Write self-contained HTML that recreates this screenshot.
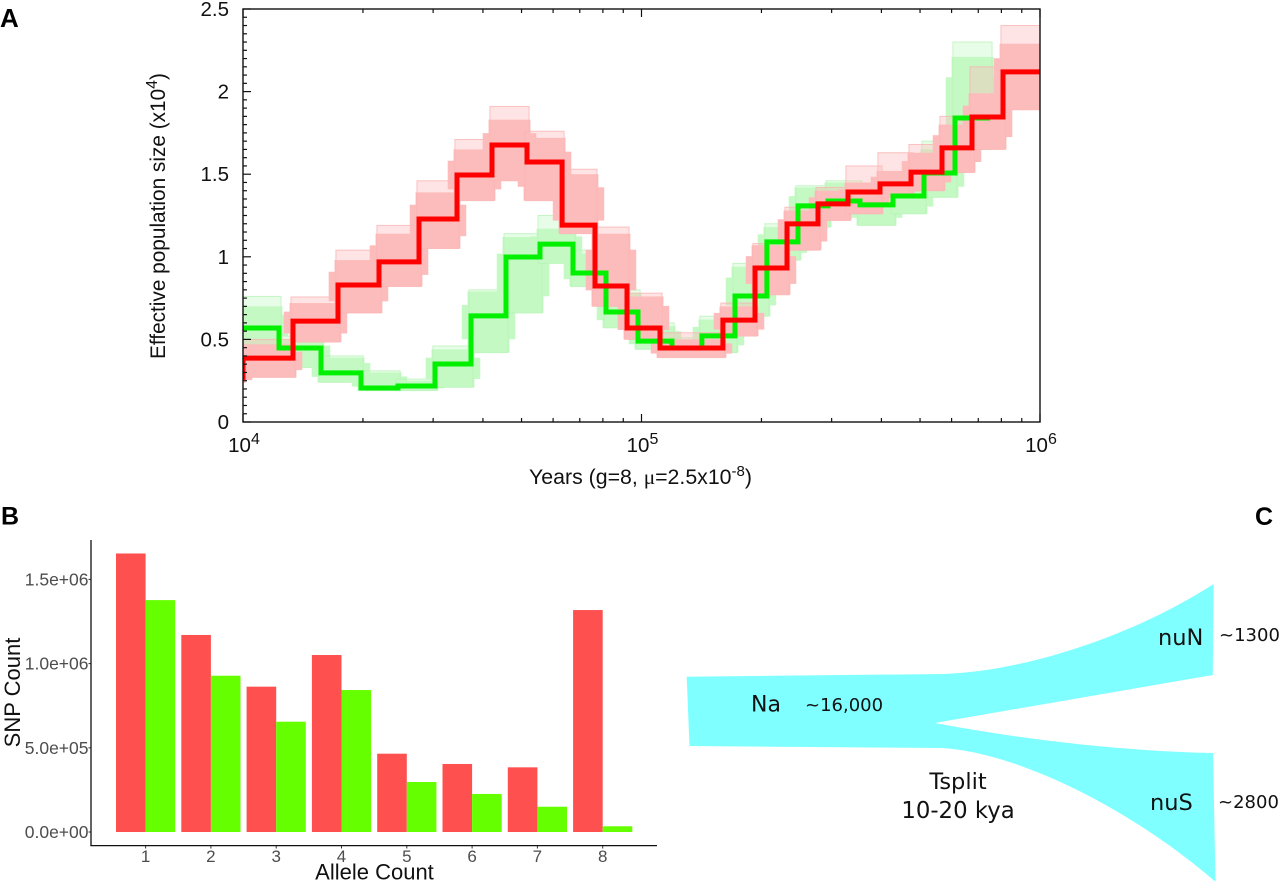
<!DOCTYPE html>
<html lang="en">
<head>
<meta charset="utf-8">
<title>Population history figure</title>
<style>
html,body{margin:0;padding:0;background:#fff;width:1280px;height:883px;overflow:hidden}
svg{display:block}
text{font-family:"Liberation Sans",sans-serif}
.dj{font-family:"DejaVu Sans",sans-serif;fill:#111}
</style>
</head>
<body>
<svg id="fig" xmlns="http://www.w3.org/2000/svg" width="1280" height="883" viewBox="0 0 1280 883">
  <defs>
    <clipPath id="plotClip"><rect x="243" y="9" width="797" height="413"/></clipPath>
  </defs>
  <text x="0" y="27" font-size="26" font-weight="bold">A</text>
  <text x="1" y="524.5" font-size="25" font-weight="bold">B</text>
  <text x="1255" y="525" font-size="25" font-weight="bold">C</text>

  <g id="panelA">
    <g id="aMarks" clip-path="url(#plotClip)"></g>
    <rect x="243" y="9" width="797" height="413" fill="none" stroke="#111" stroke-width="1.4"/>
    <g id="aAxes"></g>
    <text x="640.5" y="484" font-size="21.3" text-anchor="middle" fill="#111">Years (g=8, <tspan font-family="Liberation Serif">μ</tspan>=2.5x10<tspan font-size="15" dy="-8">-8</tspan><tspan dy="8">)</tspan></text>
    <text transform="translate(165,216) rotate(-90)" font-size="20.8" text-anchor="middle" fill="#111">Effective population size (x10<tspan font-size="16" dy="-8">4</tspan><tspan dy="8">)</tspan></text>
  </g>

  <g id="panelB">
    <g id="bMarks"></g>
    <g id="bAxes"></g>
    <line x1="91" y1="540" x2="91" y2="846" stroke="#111" stroke-width="1.3"/>
    <line x1="90.4" y1="845.6" x2="657" y2="845.6" stroke="#111" stroke-width="1.3"/>
    <text x="374.5" y="879.5" font-size="22" text-anchor="middle" fill="#111">Allele Count</text>
    <text transform="translate(20,692.5) rotate(-90)" font-size="22" text-anchor="middle" fill="#111">SNP Count</text>
  </g>

  <g id="panelC">
    <path d="M686.7 676.7 L942.4 674 C1020 672 1130 638 1213.6 584 L1212.8 675 L934.6 723 Q1080 750 1213 753 L1215.5 881.7 C1120 800 1010 752 942 748 L689.5 746 Z" fill="#7fffff"/>
    <text class="dj" x="751" y="711.5" font-size="22">Na</text>
    <text class="dj" x="805" y="711" font-size="18">~16,000</text>
    <text class="dj" x="1158" y="645" font-size="22.5">nuN</text>
    <text class="dj" x="1219" y="641" font-size="18">~1300</text>
    <text class="dj" x="1150" y="810" font-size="22.5">nuS</text>
    <text class="dj" x="1218" y="808" font-size="18">~2800</text>
    <text class="dj" x="958" y="789" font-size="22.5" text-anchor="middle">Tsplit</text>
    <text class="dj" x="958" y="818" font-size="22.8" text-anchor="middle">10-20 kya</text>
  </g>
</svg>
<script>
// Panel A: PSMC effective population history (years; Ne in units of 10^4)
var redYears = [9600,10000,13350,17310,21940,27650,34430,42150,51610,63190,76420,91950,111300,160100,192700,231800,277300,329700,396700,474600,567700,675200,807600,1000000];
var redNe = [0.27,0.387,0.611,0.829,0.969,1.229,1.495,1.677,1.574,1.192,0.823,0.569,0.448,0.617,0.932,1.199,1.320,1.392,1.441,1.513,1.659,1.846,2.119];
var redBandLow = [0.24,0.27,0.484,0.66,0.82,1.05,1.34,1.46,1.34,1.14,0.70,0.50,0.39,0.52,0.77,1.04,1.22,1.26,1.36,1.40,1.51,1.65,1.89];
var redBandHigh = [0.30,0.47,0.72,0.98,1.14,1.39,1.65,1.83,1.72,1.50,1.14,0.76,0.50,0.70,1.07,1.28,1.40,1.45,1.52,1.63,1.80,1.99,2.29];
var redBandOuter = [0.30,0.50,0.757,1.04,1.19,1.46,1.71,1.91,1.76,1.53,1.18,0.78,0.54,0.72,1.08,1.30,1.42,1.55,1.63,1.68,1.85,2.15,2.40];

var greenYears = [10000,12310,15690,19780,24490,30320,37340,45710,55640,67300,81450,97990,119300,141800,171600,206400,247000,293800,353400,427700,511500,611900,749000];
var greenNe = [0.569,0.448,0.297,0.206,0.218,0.351,0.642,0.999,1.077,0.902,0.666,0.490,0.448,0.521,0.763,1.090,1.308,1.338,1.314,1.368,1.507,1.840];
var greenBandLow = [0.47,0.33,0.24,0.19,0.19,0.21,0.42,0.66,0.96,0.82,0.57,0.44,0.40,0.42,0.64,0.98,1.18,1.24,1.19,1.26,1.36,1.65];
var greenBandHigh = [0.70,0.50,0.39,0.30,0.25,0.44,0.79,1.12,1.17,1.02,0.78,0.58,0.50,0.62,0.94,1.18,1.42,1.45,1.40,1.46,1.65,2.21];
var greenBandOuter = [0.76,0.52,0.40,0.31,0.26,0.46,0.80,1.14,1.25,1.04,0.80,0.60,0.51,0.64,0.96,1.20,1.43,1.46,1.41,1.47,1.70,2.30];

var yTickLabels = ['0','0.5','1','1.5','2','2.5'];
var yTickValues = [0,0.5,1,1.5,2,2.5];
var xDecades = [4,5,6];

// Panel B: SNP counts per allele count
var alleleCategories = ['1','2','3','4','5','6','7','8'];
var redCounts = [1654000,1170000,863000,1051000,465000,404000,384000,1318000];
var greenCounts = [1377000,928000,655000,843000,297000,226000,150000,34000];
var countTickValues = [0,500000,1000000,1500000];
var countTickLabels = ['0.0e+00','5.0e+05','1.0e+06','1.5e+06'];

var NS = 'http://www.w3.org/2000/svg';
function xA(year){ return 243 + 398.5 * (Math.log10(year) - 4); }
function yA(ne){ return 422 - 165.2 * ne; }
function xB(i){ return 145.6 + 65.3 * i; }
function yB(count){ return 832 - count * 84.2 / 500000; }

function make(tag, attrs, parent){
  var el = document.createElementNS(NS, tag);
  for (var k in attrs) el.setAttribute(k, attrs[k]);
  parent.appendChild(el);
  return el;
}
function stepPoints(years, values){
  var pts = [];
  for (var i = 0; i < values.length; i++){
    pts.push(xA(years[i]).toFixed(1) + ',' + yA(values[i]).toFixed(1));
    pts.push(xA(years[i+1]).toFixed(1) + ',' + yA(values[i]).toFixed(1));
  }
  return pts.join(' ');
}

var aMarks = document.getElementById('aMarks');
var aAxes = document.getElementById('aAxes');
var bMarks = document.getElementById('bMarks');
var bAxes = document.getElementById('bAxes');

function bandRect(g, years, i, top, bottom, spread, fill, opacity, key){
  var x0 = xA(years[i] / spread), x1 = xA(years[i+1] * spread);
  var r = make('rect', {x:x0, y:yA(top), width:x1-x0, height:yA(bottom)-yA(top), fill:fill, 'fill-opacity':opacity}, g);
  
  
}
function drawBand(years, low, high, outer, fill, line, key){
  var g = make('g', {}, aMarks);
  
  
  for (var i = 0; i < low.length; i++){
    var range = high[i] - low[i];
    bandRect(g, years, i, outer[i], low[i], 1.012, fill, 0.4, key);
    bandRect(g, years, i, high[i], low[i], 1.02, fill, 1, key);
    bandRect(g, years, i, high[i] - range * 0.22, low[i] + range * 0.22, 1.055, fill, 1, key);
    var o = make('rect', {x:xA(years[i]/1.012), y:yA(outer[i]), width:xA(years[i+1]*1.012)-xA(years[i]/1.012), height:yA(low[i])-yA(outer[i]), fill:'none', stroke:line, 'stroke-width':1, 'stroke-opacity':0.8}, g);
    
    
  }
}
function drawStep(years, values, color, key){
  var p = make('polyline', {points:stepPoints(years, values), fill:'none', stroke:color, 'stroke-width':5, 'stroke-linejoin':'miter'}, aMarks);
  
  
}

drawBand(greenYears, greenBandLow, greenBandHigh, greenBandOuter, '#c4f9c4', '#b9f3b9', 'green');
drawBand(redYears, redBandLow, redBandHigh, redBandOuter, '#fdbcbc', '#fab4b4', 'red');
drawStep(greenYears, greenNe, '#00f000', 'green');
drawStep(redYears, redNe, '#ff0000', 'red');

// Panel A ticks
for (var i = 0; i <= 50; i++){
  var v = i * 0.05;
  var major = i % 10 === 0;
  var t = make('line', {x1:243, x2:243 + (major ? 8 : 4), y1:yA(v), y2:yA(v), stroke:'#111', 'stroke-width':1.2}, aAxes);
  
  
}
yTickValues.forEach(function(v, i){
  var l = make('text', {x:229, y:yA(v) + 7, 'font-size':20.5, 'text-anchor':'end', fill:'#111'}, aAxes);
  
  
  l.textContent = yTickLabels[i];
});
xDecades.forEach(function(d, n){
  var base = Math.pow(10, d);
  for (var m = 1; m <= 9; m++){
    if (n === xDecades.length - 1 && m > 1) break;
    var year = base * m, x = xA(year), len = m === 1 ? 8 : 4;
    var b = make('line', {x1:x, x2:x, y1:422, y2:422 - len, stroke:'#111', 'stroke-width':1.2}, aAxes);
    
    
    var tp = make('line', {x1:x, x2:x, y1:9, y2:9 + len, stroke:'#111', 'stroke-width':1.2}, aAxes);
    
    
  }
  var l = make('text', {x:xA(base) + 1, y:452, 'font-size':20.5, 'text-anchor':'middle', fill:'#111'}, aAxes);
  
  
  l.appendChild(document.createTextNode('10'));
  var s = make('tspan', {'font-size':16, dy:-8}, l);
  s.textContent = String(d);
});

// Panel B bars
var barW = 29.6;
alleleCategories.forEach(function(c, i){
  var cx = xB(i);
  var r = make('rect', {x:cx - barW, y:yB(redCounts[i]), width:barW, height:yB(0) - yB(redCounts[i]), fill:'#ff5050'}, bMarks);
  
  
  var g = make('rect', {x:cx, y:yB(greenCounts[i]), width:barW, height:yB(0) - yB(greenCounts[i]), fill:'#66ff00'}, bMarks);
  
  
  var l = make('text', {x:cx, y:862, 'font-size':17, 'text-anchor':'middle', fill:'#4d4d4d'}, bAxes);
  
  
  l.textContent = c;
  var t = make('line', {x1:cx, x2:cx, y1:846, y2:848.5, stroke:'#333', 'stroke-width':1}, bAxes);
  
  
});
countTickValues.forEach(function(v, i){
  var l = make('text', {x:88.5, y:yB(v) + 6, 'font-size':17.5, 'text-anchor':'end', fill:'#4d4d4d'}, bAxes);
  
  
  l.textContent = countTickLabels[i];
  var t = make('line', {x1:88.5, x2:91, y1:yB(v), y2:yB(v), stroke:'#333', 'stroke-width':1}, bAxes);
  
  
});
</script>
</body>
</html>
